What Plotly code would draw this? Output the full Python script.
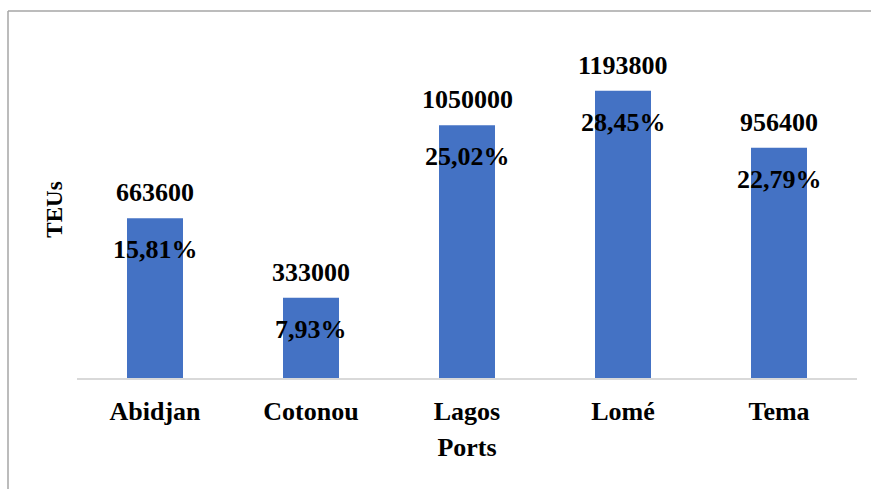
import plotly.graph_objects as go

ports = ["Abidjan", "Cotonou", "Lagos", "Lomé", "Tema"]
teus = [663600, 333000, 1050000, 1193800, 956400]
shares = ["15,81%", "7,93%", "25,02%", "28,45%", "22,79%"]

FONT = "Liberation Serif, Times New Roman, serif"
BAR = "#4472C4"

W, H = 871, 489
L, R, T, B = 77, 14, 41, 111
pw, ph = W - L - R, H - T - B

fig = go.Figure()
fig.add_trace(go.Bar(x=ports, y=teus, marker=dict(color=BAR, line=dict(width=0)),
                     hoverinfo="skip"))

annotations = []
for p, v, s in zip(ports, teus, shares):
    annotations.append(dict(x=p, y=v, xref="x", yref="y", text=str(v), showarrow=False,
                            yanchor="bottom", yshift=9,
                            font=dict(family=FONT, size=26, color="black", weight="bold")))
    annotations.append(dict(x=p, y=v, xref="x", yref="y", text=s, showarrow=False,
                            yanchor="top", yshift=-15,
                            font=dict(family=FONT, size=26, color="black", weight="bold")))

# outer border (left and top edges visible)
bx = (8 - L) / pw
by = (H - B - 11) / ph
shapes = [
    dict(type="line", xref="paper", yref="paper", x0=bx, x1=bx, y0=by, y1=-2,
         line=dict(color="#A6A6A6", width=1.5)),
    dict(type="line", xref="paper", yref="paper", x0=bx, x1=2, y0=by, y1=by,
         line=dict(color="#A6A6A6", width=1.5)),
]

fig.update_layout(
    width=W, height=H,
    margin=dict(l=L, r=R, t=T, b=B, autoexpand=False),
    paper_bgcolor="white", plot_bgcolor="white",
    showlegend=False,
    bargap=0.641,
    annotations=annotations,
    shapes=shapes,
    xaxis=dict(showline=True, linecolor="#D9D9D9", linewidth=2, ticks="outside",
               ticklen=9, tickcolor="rgba(0,0,0,0)",
               tickfont=dict(family=FONT, size=26, color="black", weight="bold"),
               title=dict(text="Ports", standoff=13,
                          font=dict(family=FONT, size=26, color="black", weight="bold")),
               showgrid=False, zeroline=False, fixedrange=True),
    yaxis=dict(range=[0, 1400000], showticklabels=False, showgrid=False, zeroline=False,
               showline=False, ticks="",
               title=dict(text="TEUs", standoff=6,
                          font=dict(family=FONT, size=23, color="black", weight="bold")),
               fixedrange=True),
)

fig.write_html("out.html")
